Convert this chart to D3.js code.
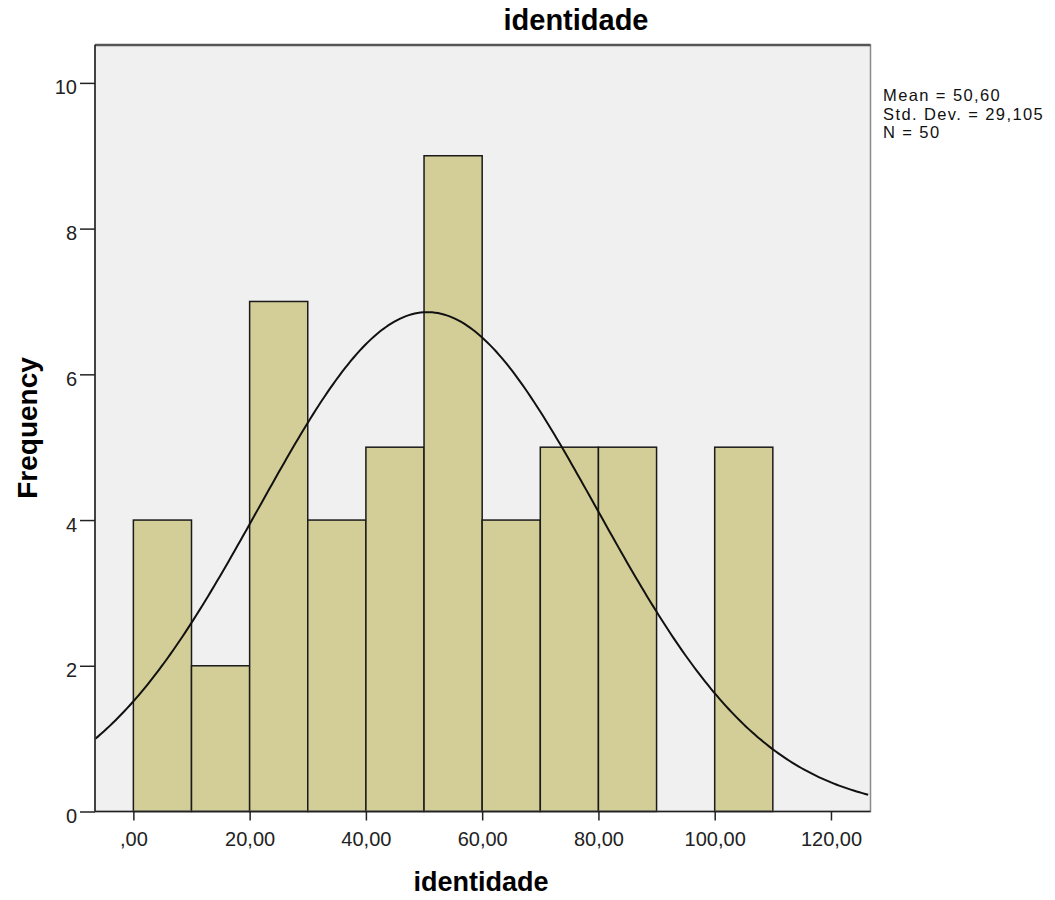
<!DOCTYPE html>
<html><head><meta charset="utf-8">
<script src="https://cdn.jsdelivr.net/npm/d3@7"></script>
<style>body{margin:0;background:#fff;}text{font-family:"Liberation Sans",Arial,sans-serif;}</style>
</head><body>
<svg id="chart" width="1055" height="900"></svg>
<script>
const binStarts = [0,10,20,30,40,50,60,70,80,90,100];
const binWidth = 10;
const frequencies = [4,2,7,4,5,9,4,5,5,0,5];
const xTicks = [0,20,40,60,80,100,120];
const yTicks = [0,2,4,6,8,10];
const stats = {mean:50.60, sd:29.105, n:50};
const statLabels = ["Mean = 50,60","Std. Dev. = 29,105","N = 50"];

const svg = d3.select("#chart");
const L=95,R=870.5,T=45,B=811.5;
const x = d3.scaleLinear().domain([-6.6,126.8]).range([L,R]);
const y = d3.scaleLinear().domain([0,10.52]).range([B,T]);
const fmt = v => v===0 ? ",00" : d3.format(".2f")(v).replace(".",",");

svg.append("rect").attr("x",L).attr("y",T).attr("width",R-L).attr("height",B-T).attr("fill","#f0f0f0");

svg.append("g").selectAll("rect").data(binStarts.map((s,i)=>({s,f:frequencies[i]})).filter(d=>d.f>0))
 .join("rect")
 .attr("x",d=>x(d.s)).attr("width",d=>x(d.s+binWidth)-x(d.s))
 .attr("y",d=>y(d.f)).attr("height",d=>y(0)-y(d.f))
 .attr("fill","#d3ce97").attr("stroke","#1a1a1a").attr("stroke-width",1.5);

// normal curve
const k = stats.n*binWidth/(stats.sd*Math.sqrt(2*Math.PI));
const pts = d3.range(-6.6,126.81,0.5).map(v=>[v,k*Math.exp(-0.5*Math.pow((v-stats.mean)/stats.sd,2))]);
svg.append("path").datum(pts).attr("fill","none").attr("stroke","#111").attr("stroke-width",2)
 .attr("d",d3.line().x(d=>x(d[0])).y(d=>y(d[1])));

// frame
svg.append("rect").attr("x",L).attr("y",T).attr("width",R-L).attr("height",B-T).attr("fill","none").attr("stroke","#8a8a8a").attr("stroke-width",1.5);
svg.append("line").attr("x1",L).attr("x2",R).attr("y1",T).attr("y2",T).attr("stroke","#555").attr("stroke-width",2.5);
svg.append("line").attr("x1",L).attr("x2",L).attr("y1",T).attr("y2",B).attr("stroke","#222").attr("stroke-width",1.5);
svg.append("line").attr("x1",L).attr("x2",R).attr("y1",B).attr("y2",B).attr("stroke","#222").attr("stroke-width",1.5);

// axes
const xa = svg.append("g").attr("transform",`translate(0,${B})`)
 .call(d3.axisBottom(x).tickValues(xTicks).tickFormat(fmt).tickSize(9).tickPadding(11));
xa.select(".domain").remove();
xa.selectAll("line").attr("stroke","#222").attr("stroke-width",1.5);
xa.selectAll("text").attr("font-size",20).attr("fill","#222").style("font-family","Liberation Sans, Arial, sans-serif");

const ya = svg.append("g").attr("transform",`translate(${L},0)`)
 .call(d3.axisLeft(y).tickValues(yTicks).tickFormat(d3.format("d")).tickSize(15).tickPadding(3));
ya.select(".domain").remove();
ya.selectAll("line").attr("stroke","#222").attr("stroke-width",1.5);
ya.selectAll("text").attr("font-size",20).attr("dy","0.55em").attr("fill","#222").style("font-family","Liberation Sans, Arial, sans-serif");

svg.append("text").attr("x",576).attr("y",30).attr("text-anchor","middle").attr("font-size",29).attr("font-weight","bold").text("identidade");
svg.append("text").attr("x",481).attr("y",891).attr("text-anchor","middle").attr("font-size",27).attr("font-weight","bold").text("identidade");
svg.append("text").attr("transform","translate(37,428) rotate(-90)").attr("text-anchor","middle").attr("font-size",28).attr("font-weight","bold").text("Frequency");

svg.append("g").selectAll("text").data(statLabels).join("text")
 .attr("x",883).attr("y",(d,i)=>101+i*18.5).attr("font-size",16.5).attr("letter-spacing",1.4).attr("fill","#111").text(d=>d);
</script>
</body></html>
